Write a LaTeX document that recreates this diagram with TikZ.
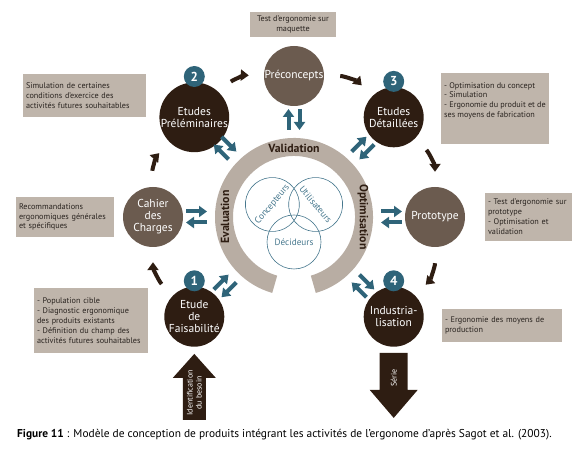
\documentclass[tikz,border=0pt]{standalone}
\usepackage{fontspec}
\setmainfont{PT Sans}
\usepackage{tikz}
\usetikzlibrary{positioning,calc,arrows.meta}
\definecolor{darkbrown}{HTML}{2E1D12}
\definecolor{midbrown}{HTML}{6B5B4F}
\definecolor{taupe}{HTML}{BFB5AB}
\definecolor{ringgray}{HTML}{B8ADA3}
\definecolor{petrol}{HTML}{2F6479}
\definecolor{vennline}{HTML}{46778D}
\definecolor{notetext}{HTML}{2A2420}
\newcommand\stagefont{\fontsize{11.5}{12}\selectfont}
\newcommand\notefont{\fontsize{8.2}{9.9}\selectfont}
\tikzset{stage/.style={circle, minimum size=60pt, inner sep=0pt, align=center, text=white, font=\stagefont}}
\tikzset{darkstage/.style={stage, fill=darkbrown}}
\tikzset{midstage/.style={stage, fill=midbrown}}
\tikzset{badge/.style={circle, fill=petrol, text=white, minimum size=21pt, inner sep=0pt, font=\bfseries\fontsize{13}{13}\selectfont}}
\tikzset{note/.style={fill=taupe, inner xsep=3pt, inner ysep=3pt, align=left, text=notetext, font=\notefont}}
\tikzset{venn/.style={circle, draw=vennline, line width=0.6pt, minimum size=54pt, inner sep=0pt, text=vennline, font=\fontsize{9.2}{10}\selectfont}}
\tikzset{ringlabel/.style={text=darkbrown, font=\bfseries\fontsize{11.8}{14}\selectfont}}
\tikzset{flow/.style={draw=darkbrown, line width=4pt, -{Triangle[width=11pt,length=8pt]}, shorten <=16pt, shorten >=15pt}}
\tikzset{xchg/.style={draw=petrol, line width=4pt, -{Triangle[width=11pt,length=8pt]}}}
\tikzset{bigtext/.style={text=white, align=center, font=\fontsize{8}{9}\selectfont, inner sep=0pt}}
\newcommand\ringarrows[2]{
				\coordinate (#1-a) at ($(C)+(#2:87)+(#2+90:5.5)$);
				\coordinate (#1-b) at ($(C)+(#2:108)+(#2+90:5.5)$);
				\coordinate (#1-c) at ($(C)+(#2:108)+(#2-90:5.5)$);
				\coordinate (#1-d) at ($(C)+(#2:87)+(#2-90:5.5)$);
				\draw[xchg] (#1-a) -- (#1-b);
				\draw[xchg] (#1-c) -- (#1-d);
				}
\begin{document}
\begin{tikzpicture}[x=1pt, y=1pt]
	\useasboundingbox (0,0) rectangle (588,457);
	\coordinate (C) at (294,240);

	% central ring
	\fill[ringgray] ($(C)+(-74:79)$) arc[start angle=-74, end angle=254, radius=79]
		-- ($(C)+(254:61)$) arc[start angle=254, end angle=-74, radius=61] -- cycle;
	\node[ringlabel] (valid) at ($(C)+(0,69)$) {Validation};
	\node[ringlabel, rotate=90] (evalu) at ($(C)+(-69,0)$) {Evaluation};
	\node[ringlabel, rotate=-90] (optim) at ($(C)+(69,0)$) {Optimisation};

	\node[venn, rotate=50] (concep) at ($(C)+(150:25)$) {Concepteurs};
	\node[venn, rotate=-50] (util) at ($(C)+(30:25)$) {Utilisateurs};
	\node[venn] (decid) at ($(C)+(270:25)$) {\raisebox{-6pt}{Décideurs}};

	% stages
	\node[darkstage] (feas) at ($(C)+(225:141)$) {Etude\\de\\Faisabilité};
	\node[midstage] (cahier) at ($(C)+(180:141)$) {Cahier\\des\\Charges};
	\node[darkstage] (prelim) at ($(C)+(135:141)$) {Etudes\\Préléminaires};
	\node[midstage] (precon) at ($(C)+(90:141)$) {Préconcepts};
	\node[darkstage] (detail) at ($(C)+(45:141)$) {Etudes\\Détaillées};
	\node[midstage] (proto) at ($(C)+(0:141)$) {Prototype};
	\node[darkstage] (indus) at ($(C)+(-45:141)$) {Industria-\\lisation};

	\node[badge, above=-5pt of feas] (b1) {1};
	\node[badge, above=-5pt of prelim] (b2) {2};
	\node[badge, above=-5pt of detail] (b3) {3};
	\node[badge, above=-5pt of indus] (b4) {4};

	% flow between stages
	\draw[flow] (feas) to[bend left=22.5] (cahier);
	\draw[flow] (cahier) to[bend left=22.5] (prelim);
	\draw[flow] (prelim) to[bend left=22.5] (precon);
	\draw[flow] (precon) to[bend left=22.5] (detail);
	\draw[flow] (detail) to[bend left=22.5] (proto);
	\draw[flow] (proto) to[bend left=22.5] (indus);

	% exchanges with the ring
	\ringarrows{feas}{225}
	\ringarrows{cahier}{180}
	\ringarrows{prelim}{135}
	\ringarrows{precon}{90}
	\ringarrows{detail}{45}
	\ringarrows{proto}{0}
	\ringarrows{indus}{-45}

	% notes
	\node[note, align=center, minimum width=86pt, minimum height=25pt] (n-precon) at (293,432.5)
		{Test d’ergonomie sur\\maquette};
	\node[note, text width=117pt, minimum height=43pt] (n-prelim) at (84.5,361.5)
		{Simulation de certaines\\conditions d’exercice des\\activités futures souhaitables};
	\node[note, minimum width=108pt, minimum height=71pt, text depth=17pt] (n-detail) at (495,348.5)
		{- Optimisation du concept\\- Simulation\\- Ergonomie du produit et de\\ses moyens de fabrication};
	\node[note, text width=92pt, minimum height=40pt] (n-cahier) at (65,240)
		{Recommandations\\ergonomiques générales\\et spécifiques};
	\node[note, text width=81pt, minimum height=48pt] (n-proto) at (528.5,240)
		{- Test d’ergonomie sur\\prototype\\- Optimisation et\\validation};
	\node[note, text width=108pt, minimum height=65pt] (n-feas) at (91,136.5)
		{- Population cible\\- Diagnostic ergonomique\\des produits existants\\- Définition du champ des\\activités futures souhaitables};
	\node[note, text width=114pt, minimum height=33pt] (n-indus) at (502,131.5)
		{- Ergonomie des moyens de\\production};

	% input and output
	\fill[darkbrown] ($(feas.south)+(0,-7)$) -- ++(-21.5,-24) -- ++(10,0) -- ++(0,-42)
		-- ++(23,0) -- ++(0,42) -- ++(10,0) -- cycle;
	\node[bigtext, rotate=90] (need) at ($(feas.south)+(0,-46)$) {Identification\\du besoin};
	\fill[darkbrown] ($(indus.south)+(-14,-6)$) -- ++(28,0) -- ++(0,-37) -- ++(10,0)
		-- ++(-24,-28) -- ++(-24,28) -- ++(10,0) -- cycle;
	\node[bigtext, rotate=90] (serie) at ($(indus.south)+(0,-31)$) {Série};

	\node[anchor=west, inner sep=0pt, font=\fontsize{11.4}{13}\selectfont] (caption) at (17,22)
		{\textbf{Figure 11} : Modèle de conception de produits intégrant les activités de l’ergonome d’après Sagot et al. (2003).};
\end{tikzpicture}
\end{document}
